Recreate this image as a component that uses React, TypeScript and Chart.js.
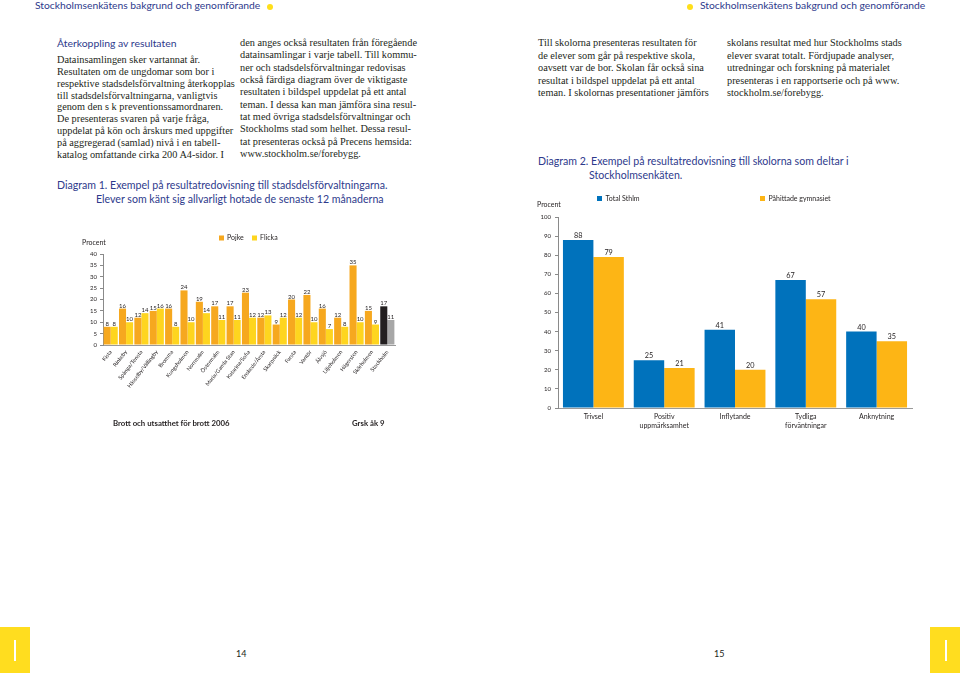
import React, { useEffect, useRef } from 'react';
import { Chart, registerables } from 'chart.js';

Chart.register(...registerables);

// ---------- Diagram 1 data ----------
const districts = [
  'Kista', 'Rinkeby', 'Spånga/Tensta', 'Hässelby/Vällingby', 'Bromma', 'Kungsholmen',
  'Norrmalm', 'Östermalm', 'Maria/Gamla Stan', 'Katarina/Sofia', 'Enskede/Årsta',
  'Skarpnäck', 'Farsta', 'Vantör', 'Älvsjö', 'Liljeholmen', 'Hägersten', 'Skärholmen', 'Stockholm',
];
const pojke = [8, 16, 12, 15, 16, 24, 19, 17, 17, 23, 12, 9, 20, 22, 16, 12, 35, 15, 17];
const flicka = [8, 10, 14, 16, 8, 10, 14, 11, 11, 12, 13, 12, 12, 10, 7, 8, 10, 9, 11];

// ---------- Diagram 2 data ----------
const areas = [['Trivsel'], ['Positiv', 'uppmärksamhet'], ['Inflytande'], ['Tydliga', 'förväntningar'], ['Anknytning']];
const totalSthlm = [88, 25, 41, 67, 40];
const pahittade = [79, 21, 20, 57, 35];

// ---------- Page text ----------
const leftColA = [
  'Datainsamlingen sker vartannat år.',
  'Resultaten om de ungdomar som bor i',
  'respektive stadsdelsförvaltning återkopplas',
  'till stadsdelsförvaltningarna, vanligtvis',
  'genom den s k preventionssamordnaren.',
  'De presenteras svaren på varje fråga,',
  'uppdelat på kön och årskurs med uppgifter',
  'på aggregerad (samlad) nivå i en tabell-',
  'katalog omfattande cirka 200 A4-sidor. I',
];
const leftColB = [
  'den anges också resultaten från föregående',
  'datainsamlingar i varje tabell. Till kommu-',
  'ner och stadsdelsförvaltningar redovisas',
  'också färdiga diagram över de viktigaste',
  'resultaten i bildspel uppdelat på ett antal',
  'teman. I dessa kan man jämföra sina resul-',
  'tat med övriga stadsdelsförvaltningar och',
  'Stockholms stad som helhet. Dessa resul-',
  'tat presenteras också på Precens hemsida:',
  'www.stockholm.se/forebygg.',
];
const rightColA = [
  'Till skolorna presenteras resultaten för',
  'de elever som går på respektive skola,',
  'oavsett var de bor. Skolan får också sina',
  'resultat i bildspel uppdelat på ett antal',
  'teman. I skolornas presentationer jämförs',
];
const rightColB = [
  'skolans resultat med hur Stockholms stads',
  'elever svarat totalt. Fördjupade analyser,',
  'utredningar och forskning på materialet',
  'presenteras i en rapportserie och på www.',
  'stockholm.se/forebygg.',
];

const BLUE_TEXT = '#2e3a8c';
const SANS = 'Lato, "Noto Sans", sans-serif';
const SERIF = '"Liberation Serif", "DejaVu Serif", serif';

// ---------- plugins ----------
const valueLabels = {
  id: 'valueLabels',
  afterDatasetsDraw(chart: any, _a: any, opts: any) {
    const { ctx } = chart;
    ctx.save();
    ctx.font = opts.font;
    ctx.fillStyle = opts.color;
    ctx.textAlign = 'center';
    ctx.textBaseline = 'alphabetic';
    chart.data.datasets.forEach((ds: any, i: number) => {
      const meta = chart.getDatasetMeta(i);
      meta.data.forEach((bar: any, j: number) => {
        ctx.fillText(String(ds.data[j]), bar.x, bar.y - opts.offset);
      });
    });
    ctx.restore();
  },
};

const boxLegend = {
  id: 'boxLegend',
  afterDraw(chart: any, _a: any, opts: any) {
    const { ctx } = chart;
    ctx.save();
    chart.data.datasets.forEach((ds: any, i: number) => {
      const x = opts.xs[i];
      const y = opts.y;
      const bg = Array.isArray(ds.backgroundColor) ? ds.backgroundColor[0] : ds.backgroundColor;
      ctx.fillStyle = bg;
      ctx.fillRect(x, y - opts.box / 2, opts.box, opts.box);
      ctx.fillStyle = opts.color;
      ctx.font = opts.font;
      ctx.textAlign = 'left';
      ctx.textBaseline = 'middle';
      ctx.fillText(ds.label, x + opts.box + opts.gap, y);
    });
    ctx.restore();
  },
};

const cornerText = {
  id: 'cornerText',
  afterDraw(chart: any, _a: any, opts: any) {
    const { ctx } = chart;
    ctx.save();
    ctx.font = opts.font;
    ctx.fillStyle = opts.color;
    ctx.textAlign = 'left';
    ctx.textBaseline = 'middle';
    ctx.fillText(opts.text, opts.x, opts.y);
    ctx.restore();
  },
};

function DistrictChart() {
  const ref = useRef<HTMLCanvasElement>(null);
  useEffect(() => {
    const last = districts.length - 1;
    const chart = new Chart(ref.current as HTMLCanvasElement, {
      type: 'bar',
      data: {
        labels: districts,
        datasets: [
          {
            label: 'Pojke',
            data: pojke,
            backgroundColor: districts.map((_, i) => (i === last ? '#231f20' : '#f6a81f')),
            categoryPercentage: 0.92,
            barPercentage: 1,
            borderWidth: 0,
          },
          {
            label: 'Flicka',
            data: flicka,
            backgroundColor: districts.map((_, i) => (i === last ? '#a7a7a7' : '#fed51f')),
            categoryPercentage: 0.92,
            barPercentage: 1,
            borderWidth: 0,
          },
        ],
      },
      options: {
        animation: false,
        responsive: false,
        layout: { padding: { top: 26, right: 15, left: 0, bottom: 0 } },
        plugins: {
          legend: { display: false },
          tooltip: { enabled: false },
          valueLabels: { font: `6px ${SANS}`, color: '#231f20', offset: 1 },
          boxLegend: { xs: [159, 192], y: 10, box: 5, gap: 3, font: `7px ${SANS}`, color: '#231f20' },
          cornerText: { text: 'Procent', x: 22, y: 15, font: `7px ${SANS}`, color: '#231f20' },
        } as any,
        scales: {
          x: {
            grid: { display: false, drawTicks: false },
            border: { display: true, color: '#9a9a9a', width: 1 },
            ticks: {
              autoSkip: false,
              minRotation: 52,
              maxRotation: 52,
              font: { family: SANS, size: 5.5 },
              color: '#231f20',
              padding: 4,
            },
            afterFit: (s: any) => { s.height = 83; },
          },
          y: {
            min: 0,
            max: 40,
            ticks: { stepSize: 5, font: { family: SANS, size: 6 }, color: '#231f20', padding: 3 },
            grid: { drawOnChartArea: false, drawTicks: true, tickLength: 3, color: '#8a8a8a' },
            border: { display: true, color: '#8a8a8a' },
            afterFit: (s: any) => { s.width = 43; },
          },
        },
      },
      plugins: [valueLabels, boxLegend, cornerText],
    });
    return () => chart.destroy();
  }, []);
  return (
    <canvas
      ref={ref}
      width={350}
      height={200}
      style={{ position: 'absolute', left: 60, top: 228, width: 350, height: 200 }}
    />
  );
}

function SchoolChart() {
  const ref = useRef<HTMLCanvasElement>(null);
  useEffect(() => {
    const chart = new Chart(ref.current as HTMLCanvasElement, {
      type: 'bar',
      data: {
        labels: areas,
        datasets: [
          { label: 'Total Sthlm', data: totalSthlm, backgroundColor: '#0072bc', categoryPercentage: 0.86, barPercentage: 1, borderWidth: 0 },
          { label: 'Påhittade gymnasiet', data: pahittade, backgroundColor: '#fdb515', categoryPercentage: 0.86, barPercentage: 1, borderWidth: 0 },
        ],
      },
      options: {
        animation: false,
        responsive: false,
        layout: { padding: { top: 27, right: 38, left: 0, bottom: 0 } },
        plugins: {
          legend: { display: false },
          tooltip: { enabled: false },
          valueLabels: { font: `7.3px ${SANS}`, color: '#231f20', offset: 2 },
          boxLegend: { xs: [67, 230], y: 8.5, box: 5, gap: 3.5, font: `7px ${SANS}`, color: '#231f20' },
          cornerText: { text: 'Procent', x: 7, y: 15, font: `7px ${SANS}`, color: '#231f20' },
        } as any,
        scales: {
          x: {
            grid: { display: false, drawTicks: false },
            border: { display: true, color: '#9a9a9a', width: 1 },
            ticks: { font: { family: SANS, size: 7, lineHeight: 1.2 }, color: '#231f20', padding: 5 },
            afterFit: (s: any) => { s.height = 32; },
          },
          y: {
            min: 0,
            max: 100,
            ticks: { stepSize: 10, font: { family: SANS, size: 6 }, color: '#231f20', padding: 4 },
            grid: { drawOnChartArea: false, drawTicks: true, tickLength: 3, color: '#8a8a8a' },
            border: { display: true, color: '#8a8a8a' },
            afterFit: (s: any) => { s.width = 28; },
          },
        },
      },
      plugins: [valueLabels, boxLegend, cornerText],
    });
    return () => chart.destroy();
  }, []);
  return (
    <canvas
      ref={ref}
      width={420}
      height={250}
      style={{ position: 'absolute', left: 530, top: 190, width: 420, height: 250 }}
    />
  );
}

type TProps = { x: number; y: number; size: number; font?: string; color?: string; weight?: number; text: string };
function T({ x, y, size, font = SERIF, color = '#231f20', weight = 400, text }: TProps) {
  return (
    <div
      style={{
        position: 'absolute',
        left: x,
        top: y - size * 0.57,
        fontSize: size,
        lineHeight: 1,
        fontFamily: font,
        color,
        fontWeight: weight,
        whiteSpace: 'nowrap',
      }}
    >
      {text}
    </div>
  );
}

function Dot({ x, y }: { x: number; y: number }) {
  return (
    <div
      style={{ position: 'absolute', left: x - 3, top: y - 3, width: 6, height: 6, borderRadius: 3, background: '#ffdf1a' }}
    />
  );
}

export default function App() {
  return (
    <div
      style={{
        position: 'fixed',
        left: 0,
        top: 0,
        width: 960,
        height: 673,
        overflow: 'hidden',
        background: '#ffffff',
      }}
    >
      {/* running headers */}
      <T x={35} y={6} size={10.3} font={SANS} color={BLUE_TEXT} text="Stockholmsenkätens bakgrund och genomförande" />
      <Dot x={270} y={6.5} />
      <Dot x={690} y={6.5} />
      <T x={700} y={6} size={10.3} font={SANS} color={BLUE_TEXT} text="Stockholmsenkätens bakgrund och genomförande" />

      {/* left page text */}
      <T x={57} y={44} size={10.4} font={SANS} color={BLUE_TEXT} text="Återkoppling av resultaten" />
      {leftColA.map((t, i) => (
        <T key={'a' + i} x={57} y={61 + i * 11.8} size={10.3} text={t} />
      ))}
      {leftColB.map((t, i) => (
        <T key={'b' + i} x={240} y={44 + i * 12.3} size={10.3} text={t} />
      ))}

      {/* right page text */}
      {rightColA.map((t, i) => (
        <T key={'c' + i} x={538} y={44 + i * 12.5} size={10.3} text={t} />
      ))}
      {rightColB.map((t, i) => (
        <T key={'d' + i} x={727} y={44 + i * 12.5} size={10.3} text={t} />
      ))}

      {/* captions */}
      <T x={57} y={186} size={10.6} font={SANS} color={BLUE_TEXT} text="Diagram 1. Exempel på resultatredovisning till stadsdelsförvaltningarna." />
      <T x={96} y={200} size={10.6} font={SANS} color={BLUE_TEXT} text="Elever som känt sig allvarligt hotade de senaste 12 månaderna" />
      <T x={538} y={162} size={10.6} font={SANS} color={BLUE_TEXT} text="Diagram 2. Exempel på resultatredovisning till skolorna som deltar i" />
      <T x={589} y={176} size={10.6} font={SANS} color={BLUE_TEXT} text="Stockholmsenkäten." />

      <DistrictChart />
      <SchoolChart />

      <T x={113} y={424} size={7.8} font={SANS} weight={700} text="Brott och utsatthet för brott 2006" />
      <T x={352} y={424} size={7.8} font={SANS} weight={700} text="Grsk åk 9" />

      {/* footer */}
      <div style={{ position: 'absolute', left: 0, top: 627, width: 30, height: 46, background: '#ffdd1f' }} />
      <div style={{ position: 'absolute', left: 14, top: 640, width: 1.5, height: 21, background: '#ffffff' }} />
      <div style={{ position: 'absolute', left: 930, top: 627, width: 30, height: 46, background: '#ffdd1f' }} />
      <div style={{ position: 'absolute', left: 945, top: 640, width: 1.5, height: 21, background: '#ffffff' }} />
      <T x={236} y={654} size={9} font={SANS} text="14" />
      <T x={714} y={654} size={9} font={SANS} text="15" />
    </div>
  );
}
